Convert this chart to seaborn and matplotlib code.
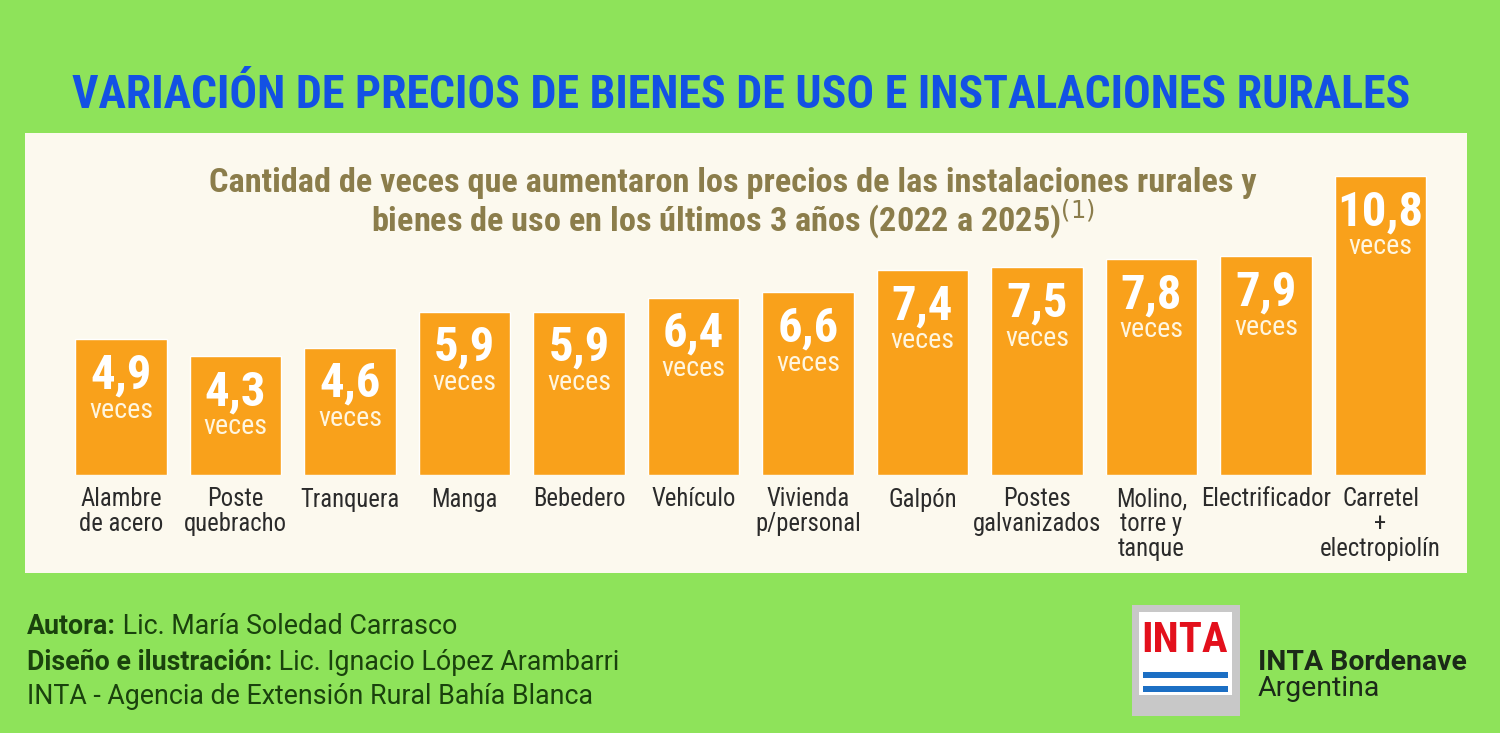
import numpy as np
import pandas as pd
import seaborn as sns
import matplotlib.pyplot as plt
from matplotlib import font_manager
from matplotlib.patches import Rectangle

# data
categories = ['Alambre\nde acero', 'Poste\nquebracho', 'Tranquera', 'Manga', 'Bebedero',
              'Vehículo', 'Vivienda\np/personal', 'Galpón', 'Postes\ngalvanizados',
              'Molino,\ntorre y\ntanque', 'Electrificador', 'Carretel\n+\nelectropiolín']
values = [4.9, 4.3, 4.6, 5.9, 5.9, 6.4, 6.6, 7.4, 7.5, 7.8, 7.9, 10.8]
value_labels = ['4,9', '4,3', '4,6', '5,9', '5,9', '6,4', '6,6', '7,4', '7,5', '7,8', '7,9', '10,8']

title = 'VARIACIÓN DE PRECIOS DE BIENES DE USO E INSTALACIONES RURALES'
subtitle = ('Cantidad de veces que aumentaron los precios de las instalaciones rurales y\n'
            'bienes de uso en los últimos 3 años (2022 a 2025)$^{(1)}$')
credits = [('Autora:', ' Lic. María Soledad Carrasco'),
           ('Diseño e ilustración:', ' Lic. Ignacio López Arambarri'),
           ('', 'INTA - Agencia de Extensión Rural Bahía Blanca')]

GREEN = '#8ee35a'
CREAM = '#fcf9ee'
ORANGE = '#f9a11b'
BLUE = '#1351e4'
OLIVE = '#8b7d4b'
DARKGREEN = '#1a420d'

sns.set_theme(style='white')
plt.rcParams['font.family'] = ['Roboto', 'DejaVu Sans']


# look for a narrow face among the installed fonts
def narrow_family():
    ents = font_manager.fontManager.ttflist
    names = {f.name for f in ents}
    for n in ['Liberation Sans Narrow', 'Roboto Condensed', 'Open Sans Condensed',
              'DejaVu Sans Condensed', 'Noto Sans Condensed']:
        if n in names:
            return dict(family=[n, 'DejaVu Sans'])
    for f in ents:
        if f.name == 'DejaVu Sans' and 'condensed' in str(f.stretch):
            return dict(family=['DejaVu Sans'], fontstretch='condensed')
    for f in ents:
        if 'condensed' in str(f.stretch) or 'Narrow' in f.name or 'Condensed' in f.name:
            return dict(family=[f.name, 'DejaVu Sans'], fontstretch=f.stretch)
    return dict(family=['Roboto', 'DejaVu Sans'])


NARROW = narrow_family()

df = pd.DataFrame({'cat': categories, 'val': values})

fig = plt.figure(figsize=(15, 7.33), dpi=100)
fig.patch.set_facecolor(GREEN)
renderer = fig.canvas.get_renderer()


def fit(t, target_px):
    # scale font size so the text's widest line spans target_px
    w = t.get_window_extent(renderer).width
    t.set_fontsize(t.get_fontsize() * target_px / w)
    return t


def size_for(sample, target_px, **kw):
    t = fig.text(0, 0, sample, fontsize=20, **kw)
    w = t.get_window_extent(renderer).width
    t.remove()
    return 20 * target_px / w


# cream panel
fig.patches.append(Rectangle((25 / 1500, 1 - 573 / 733), 1442 / 1500, 440 / 733,
                             transform=fig.transFigure, facecolor=CREAM, edgecolor='none',
                             zorder=-5))

ax = fig.add_axes([63.75 / 1500, 1 - 475 / 733, 1374 / 1500, 318.5 / 733])
ax.set_facecolor('none')
sns.barplot(data=df, x='cat', y='val', color=ORANGE, width=0.8, saturation=1, ax=ax)
ax.set_xlim(-0.5, len(categories) - 0.5)
ax.set_ylim(0, 11.5)
for s in ax.spines.values():
    s.set_visible(False)
ax.set_yticks([])
ax.set_xlabel('')
ax.set_ylabel('')
ax.tick_params(axis='x', length=0, pad=9)
ax.set_xticks(range(len(categories)))
cat_size = size_for('Electrificador', 130, **NARROW)
ax.set_xticklabels(categories, fontsize=cat_size, color='#2b2b2b', linespacing=1.05, va='top',
                   **NARROW)

num_size = size_for('10,8', 86, fontweight='bold', **NARROW)
veces_size = size_for('veces', 64, **NARROW)
for i, (v, lab) in enumerate(zip(values, value_labels)):
    ax.annotate(lab, (i, v), xytext=(0, -26), textcoords='offset points', ha='center',
                va='center', color='white', fontsize=num_size, fontweight='bold', **NARROW)
    ax.annotate('veces', (i, v), xytext=(0, -51), textcoords='offset points', ha='center',
                va='center', color='#fff6e0', fontsize=veces_size, **NARROW)

t = fig.text(741 / 1500, 1 - 95 / 733, title, ha='center', va='center', color=BLUE,
             fontsize=34, fontweight='black', **NARROW)
fit(t, 1338)
sub_size = size_for(subtitle.split('\n')[0], 1044, fontweight='bold', **NARROW)
fig.text(733 / 1500, 1 - 204 / 733, subtitle, ha='center', va='center', color=OLIVE,
         fontsize=sub_size, fontweight='bold', linespacing=0.92, **NARROW)

# credits, bold lead + regular rest
cred_size = size_for(credits[2][1], 566)
for k, (b, r) in enumerate(credits):
    y = 1 - (627 + 35 * k) / 733
    x = 27 / 1500
    if b:
        tb = fig.text(x, y, b, ha='left', va='center', color=DARKGREEN, fontsize=cred_size,
                      fontweight='bold')
        x = fig.transFigure.inverted().transform(tb.get_window_extent(renderer))[1][0]
    fig.text(x, y, r, ha='left', va='center', color=DARKGREEN, fontsize=cred_size)

# INTA logo
fig.patches.append(Rectangle((1132 / 1500, 1 - 716 / 733), 108 / 1500, 111 / 733,
                             transform=fig.transFigure, facecolor='#c8c8c8', edgecolor='none'))
fig.patches.append(Rectangle((1139 / 1500, 1 - 695 / 733), 93 / 1500, 83 / 733,
                             transform=fig.transFigure, facecolor='white', edgecolor='none'))
tl = fig.text(1185 / 1500, 1 - 641 / 733, 'INTA', ha='center', va='center', color='#e3101c',
              fontsize=30, fontweight='black', **NARROW)
fit(tl, 86)
for yy in (675, 689):
    fig.patches.append(Rectangle((1143 / 1500, 1 - (yy + 3) / 733), 85 / 1500, 6 / 733,
                                 transform=fig.transFigure, facecolor='#1c6fc4', edgecolor='none'))
tb = fig.text(1258 / 1500, 1 - 662 / 733, 'INTA Bordenave', ha='left', va='center',
              color='#1b2a18', fontsize=17, fontweight='bold')
fit(tb, 209)
fig.text(1258 / 1500, 1 - 689 / 733, 'Argentina', ha='left', va='center', color='#1b2a18',
         fontsize=tb.get_fontsize())

fig.savefig('out.png', dpi=100, facecolor=GREEN)
